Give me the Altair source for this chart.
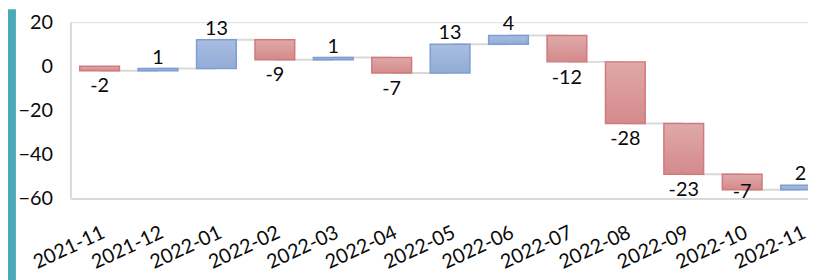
import altair as alt
import pandas as pd

categories = ["2021-11", "2021-12", "2022-01", "2022-02", "2022-03", "2022-04",
              "2022-05", "2022-06", "2022-07", "2022-08", "2022-09", "2022-10", "2022-11"]
changes = [-2, 1, 13, -9, 1, -7, 13, 4, -12, -28, -23, -7, 2]
y_ticks = [-60, -40, -20, 0, 20]

rows = []
total = 0
for i, (c, v) in enumerate(zip(categories, changes)):
    start = total
    total += v
    rows.append({
        "cat": c, "value": v, "start": start, "end": total,
        "sign": "pos" if v >= 0 else "neg",
        "next": categories[i + 1] if i + 1 < len(categories) else c,
        "label": str(v),
    })
df = pd.DataFrame(rows)

FONT = "Lato"
FS = 20
TXT = "#0a0a0a"
xscale = alt.Scale(domain=categories, paddingInner=0, paddingOuter=0, range=[0, 767])
yscale = alt.Scale(domain=[-60, 20], nice=False, zero=False)

base = alt.Chart(df)

x_enc = alt.X("cat:N", scale=xscale, sort=categories, title=None,
              axis=alt.Axis(labelAngle=-25, labelAlign="right", labelBaseline="top",
                            labelPadding=24, ticks=False, domainColor="#d9d9d9",
                            domainWidth=2, labelFontSize=FS, labelFont=FONT,
                            labelColor=TXT, labelOverlap=False))
y_enc = alt.Y("start:Q", scale=yscale, title=None,
              axis=alt.Axis(values=y_ticks, grid=False, ticks=False, domainColor="#d9d9d9",
                            domainWidth=2, labelFontSize=FS, labelFont=FONT,
                            labelColor=TXT, labelPadding=18))

stripe = alt.Chart(pd.DataFrame({"k": [0]})).mark_rect(color="#4aaab8").encode(
    x=alt.value(-63), x2=alt.value(-55), y=alt.value(-13), y2=alt.value(265))

connectors = base.transform_filter(alt.datum.cat != "2022-11").mark_rule(
    color="#d9d9d9", strokeWidth=2).encode(
    x=alt.X("cat:N", scale=xscale, sort=categories),
    x2="next:N",
    y=alt.Y("end:Q", scale=yscale))

red_grad = alt.Gradient(gradient="linear", x1=0, y1=0, x2=0, y2=1,
                        stops=[alt.GradientStop(color="#e0a9a9", offset=0),
                               alt.GradientStop(color="#d48a8b", offset=1)])
blue_grad = alt.Gradient(gradient="linear", x1=0, y1=0, x2=0, y2=1,
                         stops=[alt.GradientStop(color="#a9bde0", offset=0),
                                alt.GradientStop(color="#92acd7", offset=1)])

bars_neg = base.transform_filter(alt.datum.sign == "neg").mark_bar(
    fill=red_grad, stroke="#d07a7c", strokeWidth=1.5,
    width=alt.RelativeBandSize(0.68)).encode(
    x=x_enc, y=y_enc, y2="end:Q")
bars_pos = base.transform_filter(alt.datum.sign == "pos").mark_bar(
    fill=blue_grad, stroke="#7c9ed0", strokeWidth=1.5,
    width=alt.RelativeBandSize(0.68)).encode(
    x=x_enc, y=y_enc, y2="end:Q")

text_pos = base.transform_filter(alt.datum.sign == "pos").mark_text(
    baseline="alphabetic", dy=-5, fontSize=FS, font=FONT, color=TXT).encode(
    x=alt.X("cat:N", scale=xscale, sort=categories),
    y=alt.Y("end:Q", scale=yscale), text="label:N")
# labels stay inside the plot area, as in the original (clamped above the x axis)
text_neg = base.transform_filter(alt.datum.sign == "neg").transform_calculate(
    ly="max(datum.end, -50)").mark_text(
    baseline="top", dy=6, fontSize=FS, font=FONT, color=TXT).encode(
    x=alt.X("cat:N", scale=xscale, sort=categories),
    y=alt.Y("ly:Q", scale=yscale), text="label:N")

chart = alt.layer(stripe, connectors, bars_neg, bars_pos, text_pos, text_neg).properties(
    width=745, height=178,
    autosize=alt.AutoSizeParams(type="none"),
    padding={"left": 63, "top": 13, "right": 0, "bottom": 81}
).configure_view(stroke=None).configure(background="white")

chart.save("out.html", embed_options={"renderer": "svg", "actions": False})
